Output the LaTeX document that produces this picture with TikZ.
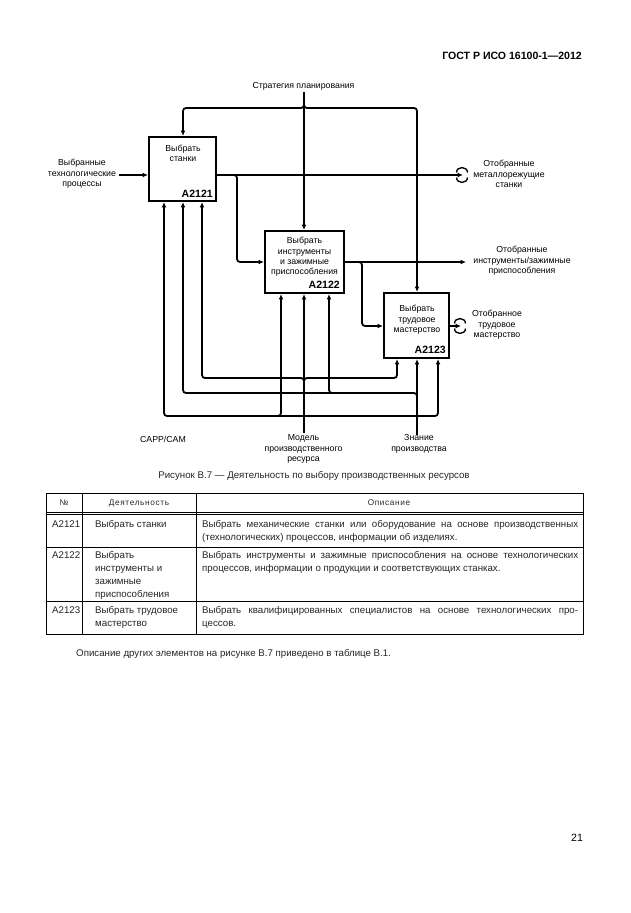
\documentclass[tikz,border=0pt]{standalone}
\usepackage{fontspec}
\setmainfont{Liberation Sans}
\newfontfamily\hdrfont[LetterSpace=8]{Liberation Sans}
\usetikzlibrary{arrows.meta,fit,calc}
\newcommand\tunnelat[1]{%
  \draw[line width=0.45mm] ($(#1)+(-5.5,-2.5)$) .. controls ($(#1)+(-5.5,-9)$) and ($(#1)+(5.5,-9)$) .. ($(#1)+(5.5,-2.5)$);
  \draw[line width=0.45mm] ($(#1)+(-5.5,2.5)$) .. controls ($(#1)+(-5.5,9)$) and ($(#1)+(5.5,9)$) .. ($(#1)+(5.5,2.5)$);}
\begin{document}
\begin{tikzpicture}[x=0.33333mm,y=-0.33333mm,
  ln/.style={line width=0.6mm, rounded corners=1mm},
  arr/.style={ln, -{Latex[length=1.8mm,width=1.6mm]}},
  darr/.style={ln, {Latex[length=1.8mm,width=1.6mm]}-{Latex[length=1.8mm,width=1.6mm]}},
  box/.style={draw, line width=0.7mm, inner sep=0pt},
  lbl/.style={font=\fontsize{8.3}{9.9}\selectfont, align=center, inner sep=0pt},
  bid/.style={font=\bfseries\fontsize{10}{10}\selectfont, inner sep=0pt, anchor=south east},
  tbl/.style={line width=0.3mm},
  ttxt/.style={font=\fontsize{9.2}{12.3}\selectfont, inner sep=0pt, anchor=base west, text=black!85},
  thdr/.style={font=\hdrfont\fontsize{7.8}{9}\selectfont, inner sep=0pt, anchor=base, text=black!85},
]
\useasboundingbox[fill=white] (0,0) rectangle (630,913);

% header and page number
\node[font=\bfseries\fontsize{10}{12}\selectfont, inner sep=0pt, anchor=east] (hdr) at (582,56) {ГОСТ Р ИСО 16100-1—2012};
\node[font=\fontsize{10}{12}\selectfont, inner sep=0pt] (pg) at (577,838) {21};

% boxes
\coordinate (b1a) at (149,137); \coordinate (b1b) at (216,201);
\node[box, fit=(b1a)(b1b)] (b1) {};
\coordinate (b2a) at (265,231); \coordinate (b2b) at (344,293);
\node[box, fit=(b2a)(b2b)] (b2) {};
\coordinate (b3a) at (384,293); \coordinate (b3b) at (449,358);
\node[box, fit=(b3a)(b3b)] (b3) {};

\node[lbl] (b1t) at (183,153.5) {Выбрать\\станки};
\node[bid] (b1id) at (213,198) {A2121};
\node[lbl] (b2t) at (304.5,257) {Выбрать\\инструменты\\и зажимные\\приспособления};
\node[bid] (b2id) at (340,289) {A2122};
\node[lbl] (b3t) at (417,320) {Выбрать\\трудовое\\мастерство};
\node[bid] (b3id) at (446,354) {A2123};

% strategy (control)
\node[lbl] (strat) at (303.5,86) {Стратегия планирования};
\coordinate (s0) at (304,92);
\draw[arr] (s0) -- (s0 |- b2.north);
\coordinate (sj) at (304,102);
\coordinate (c1) at (183,108);
\coordinate (c2) at (417,108);
\draw[arr] (sj) |- (c1) -- (c1 |- b1.north);
\draw[arr] (sj) |- (c2) -- (c2 |- b3.north);

% input
\node[lbl] (inp) at (82,174) {Выбранные\\технологические\\процессы};
\coordinate (i0) at (119,175);
\draw[arr] (i0) -- (i0 -| b1.west);

% output of A2121
\coordinate (o1e) at (463,175);
\draw[arr] (i0 -| b1.east) -- (o1e);
\tunnelat{462,175}
\node[lbl] (out1) at (509,174) {Отобранные\\металлорежущие\\станки};
\coordinate (br1) at (231,175);
\coordinate (br1c) at (237,262);
\draw[arr] (br1) -| (br1c) -- (br1c -| b2.west);

% output of A2122
\coordinate (o2e) at (466,262);
\draw[arr] (br1c -| b2.east) -- (o2e);
\node[lbl] (out2) at (522,261) {Отобранные\\инструменты/зажимные\\приспособления};
\coordinate (br2) at (356,262);
\coordinate (br2c) at (362,326);
\draw[arr] (br2) -| (br2c) -- (br2c -| b3.west);

% output of A2123
\coordinate (o3e) at (461,326);
\draw[arr] (o3e -| b3.east) -- (o3e);
\tunnelat{460,326}
\node[lbl] (out3) at (497,325) {Отобранное\\трудовое\\мастерство};

% CAPP/CAM
\node[lbl] (capp) at (163,439) {CAPP/CAM};
\coordinate (cp) at (164,416);
\coordinate (cpr) at (438,416);
\draw[darr] (cp |- b1.south) -- (cp) -- (cpr) -- (cpr |- b3.south);
\coordinate (cpb) at (275,416);
\coordinate (cpb2) at (281,416);
\draw[arr] (cpb) -| (cpb2 |- b2.south);

% model
\node[lbl] (model) at (303.5,449) {Модель\\производственного\\ресурса};
\coordinate (m0) at (304,433);
\draw[arr] (m0) -- (m0 |- b2.south);
\coordinate (mj) at (304,384);
\coordinate (ml) at (202,378);
\coordinate (mr) at (397,378);
\draw[arr] (mj) |- (ml) -- (ml |- b1.south);
\draw[arr] (mj) |- (mr) -- (mr |- b3.south);

% knowledge
\node[lbl] (zn) at (419,444) {Знание\\производства};
\coordinate (z0) at (417,435);
\draw[arr] (z0) -- (z0 |- b3.south);
\coordinate (zj) at (417,399);
\coordinate (zl) at (183,393);
\draw[arr] (zj) |- (zl) -- (zl |- b1.south);
\coordinate (zb) at (335,393);
\coordinate (zb2) at (329,393);
\draw[arr] (zb) -| (zb2 |- b2.south);

% caption
\node[font=\fontsize{9.2}{12}\selectfont, inner sep=0pt, text=black!85] (cap) at (314,476) {Рисунок В.7 — Деятельность по выбору производственных ресурсов};

% table
\draw[tbl] (46,493) rectangle (583,634);
\draw[tbl] (46,512) -- (583,512);
\draw[tbl] (46,514.5) -- (583,514.5);
\draw[tbl] (46,547) -- (583,547);
\draw[tbl] (46,601) -- (583,601);
\draw[tbl] (82,493) -- (82,634);
\draw[tbl] (196,493) -- (196,634);

\node[thdr] (h1) at (64,505) {№};
\node[thdr] (h2) at (139,505) {Деятельность};
\node[thdr] (h3) at (389,505) {Описание};

\node[ttxt] (r1a) at (52,527.5) {A2121};
\node[ttxt] (r1b) at (95,527.5) {Выбрать станки};
\node[ttxt] (r1c1) at (202,527.5) {\makebox[125.3mm][s]{Выбрать механические станки или оборудование на основе производственных}};
\node[ttxt] (r1c2) at (202,540.5) {(технологических) процессов, информации об изделиях.};

\node[ttxt] (r2a) at (52,558.5) {A2122};
\node[ttxt] (r2b1) at (95,558.5) {Выбрать};
\node[ttxt] (r2b2) at (95,571.5) {инструменты и};
\node[ttxt] (r2b3) at (95,584.5) {зажимные};
\node[ttxt] (r2b4) at (95,597.5) {приспособления};
\node[ttxt] (r2c1) at (202,558.5) {\makebox[125.3mm][s]{Выбрать инструменты и зажимные приспособления на основе технологических}};
\node[ttxt] (r2c2) at (202,571.5) {процессов, информации о продукции и соответствующих станках.};

\node[ttxt] (r3a) at (52,613) {A2123};
\node[ttxt] (r3b1) at (95,613) {Выбрать трудовое};
\node[ttxt] (r3b2) at (95,626) {мастерство};
\node[ttxt] (r3c1) at (202,613) {\makebox[125.3mm][s]{Выбрать квалифицированных специалистов на основе технологических про-}};
\node[ttxt] (r3c2) at (202,626) {цессов.};

\node[ttxt] (note) at (76,656.5) {Описание других элементов на рисунке В.7 приведено в таблице В.1.};
\end{tikzpicture}
\end{document}
